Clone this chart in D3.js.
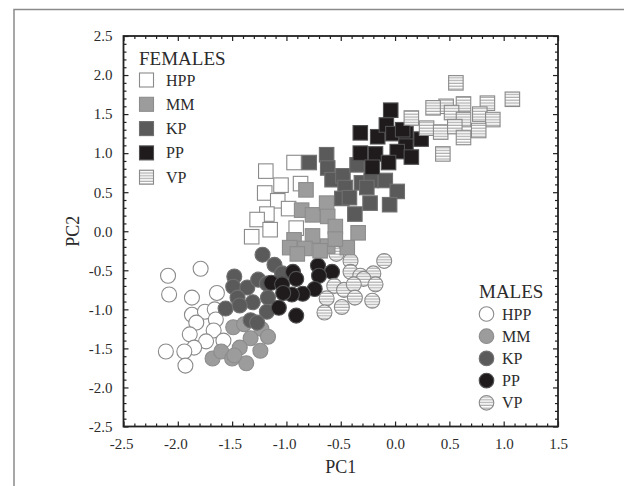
<!DOCTYPE html>
<html>
<head>
<meta charset="utf-8">
<script src="https://cdn.jsdelivr.net/npm/d3@7/dist/d3.min.js"></script>
<style>
  body { margin: 0; background: #fff; }
  svg { display: block; }
</style>
</head>
<body>
<div id="chart"></div>
<script>
// Groups, in legend order
var groups = ['HPP', 'MM', 'KP', 'PP', 'VP'];

// Tick labels
var xTickValues = [-2.5, -2.0, -1.5, -1.0, -0.5, 0.0, 0.5, 1.0, 1.5];
var xTickLabels = ['-2.5', '-2.0', '-1.5', '-1.0', '-0.5', '0.0', '0.5', '1.0', '1.5'];
var yTickValues = [-2.5, -2.0, -1.5, -1.0, -0.5, 0.0, 0.5, 1.0, 1.5, 2.0, 2.5];
var yTickLabels = ['-2.5', '-2.0', '-1.5', '-1.0', '-0.5', '0.0', '0.5', '1.0', '1.5', '2.0', '2.5'];

// Females (squares), [PC1, PC2]
var femaleHPP = [
  [-1.19, 0.77], [-0.93, 0.88], [-1.05, 0.59], [-1.20, 0.49], [-0.87, 0.61],
  [-1.08, 0.39], [-0.98, 0.29], [-1.18, 0.22], [-1.27, 0.15], [-1.15, 0.02],
  [-1.32, -0.07], [-0.91, 0.04]
];
var femaleMM = [
  [-0.82, 0.53], [-0.86, 0.27], [-0.76, 0.21], [-0.63, 0.36], [-0.62, 0.19],
  [-0.55, 0.06], [-0.76, -0.06], [-0.93, -0.11], [-0.83, -0.22], [-0.97, -0.21],
  [-0.90, -0.29], [-0.62, -0.19], [-0.44, -0.21], [-0.34, -0.02], [-0.55, -0.10],
  [-0.69, -0.25]
];
var femaleKP = [
  [-0.79, 0.88], [-0.63, 0.98], [-0.62, 0.81], [-0.58, 0.66], [-0.48, 0.71],
  [-0.46, 0.56], [-0.49, 0.42], [-0.35, 0.85], [-0.31, 0.62], [-0.22, 0.65],
  [-0.09, 0.65], [0.02, 0.51], [-0.42, 0.43], [-0.23, 0.36], [-0.05, 0.34],
  [-0.37, 0.22], [-0.26, 0.56]
];
var femalePP = [
  [-0.04, 1.55], [-0.32, 1.26], [-0.16, 1.21], [-0.08, 1.36], [-0.02, 1.25],
  [0.10, 1.25], [0.24, 1.18], [0.10, 1.09], [-0.32, 1.00], [-0.18, 0.99],
  [0.02, 1.02], [0.15, 0.95], [-0.06, 0.88], [-0.21, 0.82], [0.07, 1.30]
];
var femaleVP = [
  [0.56, 1.90], [1.08, 1.69], [0.85, 1.64], [0.63, 1.63], [0.47, 1.60],
  [0.35, 1.58], [0.15, 1.45], [0.52, 1.52], [0.63, 1.43], [0.78, 1.50],
  [0.90, 1.43], [0.29, 1.32], [0.42, 1.27], [0.55, 1.34], [0.77, 1.29],
  [0.63, 1.20], [0.44, 0.99]
];

// Males (circles), [PC1, PC2]
var maleHPP = [
  [-2.09, -0.57], [-1.79, -0.48], [-2.08, -0.81], [-1.87, -0.85], [-1.64, -0.79],
  [-1.87, -1.07], [-1.75, -1.03], [-1.66, -1.00], [-1.83, -1.17], [-1.65, -1.13],
  [-1.89, -1.32], [-1.67, -1.27], [-1.74, -1.41], [-1.85, -1.49], [-1.58, -1.40],
  [-2.11, -1.54], [-1.94, -1.54], [-1.93, -1.72]
];
var maleMM = [
  [-1.49, -1.23], [-1.23, -1.25], [-1.17, -1.35], [-1.33, -1.37], [-1.43, -1.49],
  [-1.24, -1.53], [-1.68, -1.63], [-1.60, -1.54], [-1.50, -1.63], [-1.37, -1.69],
  [-1.48, -1.59], [-1.39, -1.19]
];
var maleKP = [
  [-1.48, -0.58], [-1.49, -0.71], [-1.36, -0.72], [-1.26, -0.62], [-1.18, -0.67],
  [-1.45, -0.85], [-1.31, -0.91], [-1.56, -0.99], [-1.43, -0.95], [-1.17, -0.85],
  [-1.18, -1.03], [-1.33, -1.14], [-1.27, -1.17], [-1.11, -0.43], [-1.22, -0.30],
  [-1.04, -0.54]
];
var malePP = [
  [-1.14, -0.66], [-1.04, -0.68], [-0.94, -0.52], [-0.91, -0.61], [-0.71, -0.44],
  [-0.58, -0.52], [-0.70, -0.57], [-0.74, -0.74], [-0.85, -0.80], [-0.95, -0.81],
  [-1.07, -0.98], [-0.91, -1.08], [-1.03, -0.79]
];
var maleVP = [
  [-0.54, -0.29], [-0.41, -0.38], [-0.10, -0.38], [-0.41, -0.52], [-0.32, -0.57],
  [-0.20, -0.54], [-0.29, -0.61], [-0.56, -0.70], [-0.47, -0.75], [-0.38, -0.68],
  [-0.18, -0.68], [-0.63, -0.86], [-0.49, -0.97], [-0.37, -0.85], [-0.21, -0.89],
  [-0.65, -1.04]
];

var femaleData = [femaleHPP, femaleMM, femaleKP, femalePP, femaleVP];
var maleData = [maleHPP, maleMM, maleKP, malePP, maleVP];

var attrs = {
  svgWidth: 624,
  svgHeight: 486,
  plotLeft: 123.5,
  plotRight: 558,
  plotTop: 36,
  plotBottom: 426.5,
  font: '"Liberation Serif", "Times New Roman", serif',
  textFill: '#2b2b2b',
  squareSize: 14.5,
  circleRadius: 7.5
};

// fill / stroke per group
var groupStyle = {
  HPP: { fill: '#ffffff', stroke: '#8a8a8a' },
  MM:  { fill: '#9c9c9c', stroke: '#8c8c8c' },
  KP:  { fill: '#5a5a5a', stroke: '#707070' },
  PP:  { fill: '#1f1b1c', stroke: '#505050' },
  VP:  { fill: 'url(#stripes)', stroke: '#8a8a8a' }
};

var svg = d3.select('#chart').append('svg')
  .attr('width', attrs.svgWidth)
  .attr('height', attrs.svgHeight)
  .attr('font-family', attrs.font);

// striped fill for VP
var pattern = svg.append('defs').append('pattern')
  .attr('id', 'stripes')
  .attr('patternUnits', 'userSpaceOnUse')
  .attr('width', 6)
  .attr('height', 2.8);
pattern.append('rect').attr('width', 6).attr('height', 2.8).attr('fill', '#ffffff');
pattern.append('rect').attr('y', 1.6).attr('width', 6).attr('height', 1).attr('fill', '#9a9a9a');

// outer frame (runs off the right and bottom edges)
svg.append('rect')
  .attr('x', 14).attr('y', 9.5)
  .attr('width', 700).attr('height', 600)
  .attr('fill', 'none')
  .attr('stroke', '#8a8a8a')
  .attr('stroke-width', 1.5);

var x = d3.scaleLinear().domain([-2.5, 1.5]).range([attrs.plotLeft, attrs.plotRight]);
var y = d3.scaleLinear().domain([-2.5, 2.5]).range([attrs.plotBottom, attrs.plotTop]);

var minorX = d3.range(-25, 16).filter(i => i % 5 !== 0).map(i => i / 10);
var minorY = d3.range(-25, 26).filter(i => i % 5 !== 0).map(i => i / 10);

function styleAxis(g) {
  g.select('.domain').remove();
  g.selectAll('line').attr('stroke', '#222').attr('stroke-width', 1.2);
  g.selectAll('text').attr('fill', attrs.textFill).attr('font-size', 15).attr('font-family', attrs.font);
}

// bottom
svg.append('g').attr('transform', 'translate(0,' + attrs.plotBottom + ')')
  .call(d3.axisBottom(x).tickValues(minorX).tickSize(-3).tickSizeOuter(0).tickFormat(''))
  .call(styleAxis);
svg.append('g').attr('transform', 'translate(0,' + attrs.plotBottom + ')')
  .call(d3.axisBottom(x).tickValues(xTickValues).tickSize(-5).tickSizeOuter(0).tickPadding(12)
    .tickFormat((d, i) => xTickLabels[i]))
  .call(styleAxis)
  .call(g => g.selectAll('text').attr('text-anchor', 'end').attr('dx', 9.5));

// top
svg.append('g').attr('transform', 'translate(0,' + attrs.plotTop + ')')
  .call(d3.axisTop(x).tickValues(minorX).tickSize(-3).tickSizeOuter(0).tickFormat(''))
  .call(styleAxis);
svg.append('g').attr('transform', 'translate(0,' + attrs.plotTop + ')')
  .call(d3.axisTop(x).tickValues(xTickValues).tickSize(-5).tickSizeOuter(0).tickFormat(''))
  .call(styleAxis);

// left
svg.append('g').attr('transform', 'translate(' + attrs.plotLeft + ',0)')
  .call(d3.axisLeft(y).tickValues(minorY).tickSize(-3).tickSizeOuter(0).tickFormat(''))
  .call(styleAxis);
svg.append('g').attr('transform', 'translate(' + attrs.plotLeft + ',0)')
  .call(d3.axisLeft(y).tickValues(yTickValues).tickSize(-5).tickSizeOuter(0).tickPadding(11)
    .tickFormat((d, i) => yTickLabels[i]))
  .call(styleAxis);

// right
svg.append('g').attr('transform', 'translate(' + attrs.plotRight + ',0)')
  .call(d3.axisRight(y).tickValues(minorY).tickSize(-3).tickSizeOuter(0).tickFormat(''))
  .call(styleAxis);
svg.append('g').attr('transform', 'translate(' + attrs.plotRight + ',0)')
  .call(d3.axisRight(y).tickValues(yTickValues).tickSize(-5).tickSizeOuter(0).tickFormat(''))
  .call(styleAxis);

// plot frame
svg.append('rect')
  .attr('x', x(-2.5)).attr('y', y(2.5))
  .attr('width', x(1.5) - x(-2.5)).attr('height', y(-2.5) - y(2.5))
  .attr('fill', 'none')
  .attr('stroke', '#222')
  .attr('stroke-width', 1.8);

// males first, then females on top
var marks = svg.append('g');
maleData.forEach(function (pts, gi) {
  var st = groupStyle[groups[gi]];
  marks.append('g').selectAll('circle').data(pts).enter().append('circle')
    .attr('cx', d => x(d[0]))
    .attr('cy', d => y(d[1]))
    .attr('r', attrs.circleRadius)
    .attr('fill', st.fill)
    .attr('stroke', st.stroke)
    .attr('stroke-width', 1.1);
});
femaleData.forEach(function (pts, gi) {
  var st = groupStyle[groups[gi]];
  var s = attrs.squareSize;
  marks.append('g').selectAll('rect').data(pts).enter().append('rect')
    .attr('x', d => x(d[0]) - s / 2)
    .attr('y', d => y(d[1]) - s / 2)
    .attr('width', s)
    .attr('height', s)
    .attr('fill', st.fill)
    .attr('stroke', st.stroke)
    .attr('stroke-width', 1.1);
});

// FEMALES legend
var fLeg = svg.append('g').attr('transform', 'translate(139,0)');
fLeg.append('text').attr('x', 0).attr('y', 65)
  .attr('font-size', 19).attr('fill', attrs.textFill).text('FEMALES');
groups.forEach(function (g, i) {
  var cy = 80 + i * 24.3;
  fLeg.append('rect')
    .attr('x', 0.5).attr('y', cy - 7).attr('width', 14).attr('height', 14)
    .attr('fill', groupStyle[g].fill).attr('stroke', groupStyle[g].stroke).attr('stroke-width', 1.1);
  fLeg.append('text').attr('x', 27).attr('y', cy + 5.5)
    .attr('font-size', 16).attr('fill', attrs.textFill).text(g);
});

// MALES legend
var mLeg = svg.append('g').attr('transform', 'translate(479,0)');
mLeg.append('text').attr('x', 0).attr('y', 298)
  .attr('font-size', 19).attr('fill', attrs.textFill).text('MALES');
groups.forEach(function (g, i) {
  var cy = 314 + i * 22.2;
  mLeg.append('circle')
    .attr('cx', 7.5).attr('cy', cy).attr('r', 7.3)
    .attr('fill', groupStyle[g].fill).attr('stroke', groupStyle[g].stroke).attr('stroke-width', 1.1);
  mLeg.append('text').attr('x', 23).attr('y', cy + 5.5)
    .attr('font-size', 16).attr('fill', attrs.textFill).text(g);
});

// axis titles
svg.append('text')
  .attr('x', (attrs.plotLeft + attrs.plotRight) / 2).attr('y', 473)
  .attr('text-anchor', 'middle').attr('font-size', 18).attr('fill', attrs.textFill)
  .text('PC1');
svg.append('text')
  .attr('transform', 'translate(79,' + ((attrs.plotTop + attrs.plotBottom) / 2) + ') rotate(-90)')
  .attr('text-anchor', 'middle').attr('font-size', 18).attr('fill', attrs.textFill)
  .text('PC2');
</script>
</body>
</html>
